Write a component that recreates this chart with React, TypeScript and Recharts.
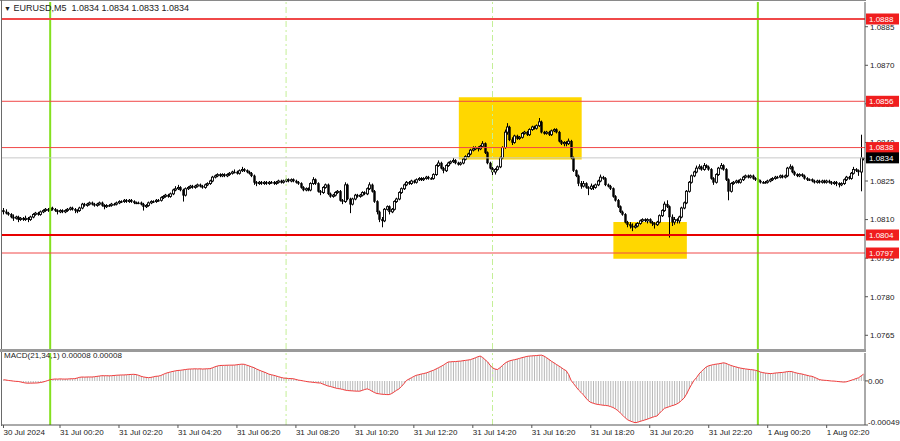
import React from 'react';
import { ComposedChart, Bar, Line, XAxis, YAxis, ReferenceLine, ReferenceArea } from 'recharts';

const FONT = '"Liberation Sans", Arial, sans-serif';
const BASE = 1.08;
const PIP = 0.0001;

// OHLC in pips above 1.0800, one entry per 5-minute bar
const opens = [
  13.5, 13, 12.5, 12, 11, 10.5, 11, 10, 10.5, 10,
  10.5, 10, 11, 12, 12.5, 12, 13, 13.5, 14, 13.5,
  14.5, 14, 13.5, 13, 13.5, 13, 13.5, 14, 14.5, 14,
  13.5, 13.5, 14.5, 16, 15.5, 16, 16.5, 16, 15.5, 16,
  16.5, 15.5, 15, 15.5, 15.5, 16, 16, 16.5, 17, 17,
  17.5, 17, 17.5, 17, 16.5, 16.5, 16.5, 16, 15, 15.5,
  16.5, 17, 17, 17.5, 17.5, 18.5, 19, 19.5, 19, 20,
  21.5, 22, 22.5, 21.5, 19.5, 22, 22.5, 23, 22.5, 23,
  23.5, 23, 22.5, 23.5, 24, 25, 26.5, 27, 27.5, 27,
  27.5, 27, 27.5, 28, 28.5, 28.5, 28, 29, 29.5, 29,
  28.5, 28, 27, 24.5, 24, 24.5, 24, 24.5, 24, 24.5,
  24.5, 24, 24.5, 25, 24.5, 25, 25.5, 25, 25.5, 25,
  24.5, 24, 22.5, 21.5, 22, 21.5, 24, 25.5, 24, 21,
  20.5, 22.5, 23.5, 20, 19, 19.5, 20.5, 21, 17.5, 17,
  23.5, 18, 16, 18, 19.5, 19, 19.5, 20.5, 20, 22,
  23.5, 21, 17, 13, 10, 9.5, 14, 15, 13, 14,
  17, 18, 20.5, 22, 23.5, 24.5, 24, 25, 24.5, 25.5,
  26, 25.5, 26, 26.5, 26, 26, 27.5, 31, 32, 30,
  29, 31, 32, 32.5, 33, 32, 31.5, 32, 33.5, 34.5,
  35.5, 37, 37.5, 38, 37.5, 38.5, 39.5, 36, 32, 30,
  28.5, 29.5, 30.5, 34, 38, 44, 46, 41, 40, 42.5,
  41.5, 42, 43.5, 44, 43, 45, 46, 45.5, 46.5, 48,
  44, 43.5, 44, 43, 44.5, 45, 44, 40.5, 39.5, 40,
  39.5, 40.5, 34, 29, 27, 24, 23, 24, 22.5, 22,
  23, 22.5, 23.5, 25, 26.5, 26, 23.5, 23, 22, 19,
  17.5, 15, 13, 12, 9, 8, 7.5, 7, 7.5, 8.5,
  9.5, 10, 9.5, 10, 9, 8.5, 8, 9, 11.5, 13.5,
  16, 15, 11, 9, 10, 9.5, 11, 14.5, 16.5, 21,
  24.5, 27, 28.5, 30, 30.5, 29.5, 31, 30.5, 29.5, 26,
  24.5, 27.5, 30, 31, 29.5, 25.5, 21, 24, 24.5, 25,
  24.5, 25.5, 26.5, 27, 26.5, 27, 26, 25.5, 25, 24.5,
  24.5, 24.5, 25, 25.5, 26, 26.5, 26.5, 27, 26.5, 27,
  30, 30.5, 28.5, 27.5, 27, 27.5, 27, 26, 25.5, 25.5,
  25, 24.5, 25, 24.5, 25, 24.5, 25, 24.5, 24, 24.5,
  24, 23.5, 24, 25.5, 26.5, 26, 28, 29.5, 29, 28.5,
  34,
];
const highs = [
  14.5, 14, 13, 12.5, 12, 11.5, 11.5, 11, 11, 11.5,
  11, 11.5, 12.5, 13, 13, 13.5, 14, 14.5, 14.5, 15,
  15, 14.5, 14, 14, 14, 14, 14.5, 15, 15, 14.5,
  14, 15, 16.5, 16.5, 16.5, 17, 17, 16.5, 16.5, 17,
  17, 16, 16, 16, 16.5, 16.5, 17, 17.5, 17.5, 18,
  18, 18, 18, 17.5, 17, 17, 17, 16.5, 16, 17,
  17.5, 17.5, 18, 18, 19, 19.5, 20, 20, 20.5, 22,
  23, 23.5, 23, 22, 22.5, 23, 23.5, 23.5, 23.5, 24,
  24, 23.5, 24, 24.5, 25.5, 27, 27.5, 28, 28, 28,
  28, 28, 28.5, 29, 29.5, 29, 29.5, 30.5, 30, 29.5,
  29, 28.5, 27.5, 25, 25, 25, 25, 25, 25, 25,
  25, 25, 25.5, 25.5, 25.5, 26, 26, 26, 26, 25.5,
  25, 24.5, 23, 22.5, 22.5, 24.5, 26.5, 26, 24.5, 21.5,
  23, 24, 24, 20.5, 20, 21, 21.5, 21.5, 18, 24.5,
  24, 18.5, 18.5, 20, 20, 20, 21, 21, 22.5, 24.5,
  24, 21.5, 17.5, 13.5, 11, 14.5, 15.5, 15.5, 14.5, 17.5,
  18.5, 21, 22.5, 24, 25, 25, 25.5, 25.5, 26, 26.5,
  26.5, 26.5, 27, 27, 26.5, 28, 31.5, 33, 32.5, 30.5,
  31.5, 32.5, 33, 34, 33.5, 32.5, 32.5, 34, 35, 36,
  37.5, 38.5, 38.5, 38.5, 39, 40.5, 40, 36.5, 32.5, 30.5,
  30, 31, 34.5, 38.5, 45, 47.5, 46.5, 42, 43, 43,
  42.5, 44, 44.5, 44.5, 45.5, 46.5, 46.5, 47, 49.5, 48.5,
  44.5, 44.5, 44.5, 45, 45.5, 45.5, 44.5, 41, 40.5, 40.5,
  41.5, 41, 34.5, 29.5, 27.5, 25, 25, 24.5, 23, 24,
  23.5, 24, 25.5, 27.5, 27, 26.5, 24, 23.5, 22.5, 19.5,
  18, 15.5, 13.5, 12.5, 9.5, 9, 8.5, 8.5, 9, 10,
  10.5, 10.5, 10.5, 10.5, 9.5, 9, 9.5, 12, 14, 17,
  17.5, 15.5, 12, 11, 10.5, 11.5, 15, 17, 21.5, 25,
  27.5, 29, 31, 31.5, 31, 32, 31.5, 31, 30, 26.5,
  28, 30.5, 32, 31.5, 30, 26, 24.5, 25, 25.5, 25.5,
  26, 27, 27.5, 27.5, 27.5, 27.5, 26.5, 26, 25.5, 25,
  25, 25.5, 26, 26.5, 27, 27, 27.5, 27.5, 27.5, 30.5,
  31.5, 31, 29, 28, 28, 28, 27.5, 26.5, 26, 26,
  25.5, 25.5, 25.5, 25.5, 25.5, 25.5, 25.5, 25, 25, 25,
  24.5, 24.5, 26, 27, 27, 28.5, 30.5, 30, 29.5, 43,
  34,
];
const lows = [
  12, 12, 11.5, 10.5, 9.5, 10, 9, 9.5, 9.5, 9.5,
  9, 9.5, 10.5, 11.5, 11.5, 11.5, 12.5, 13, 13, 13,
  13.5, 13, 12, 12.5, 12.5, 12.5, 13, 13.5, 13.5, 12.5,
  12.5, 13, 14, 15, 15, 15.5, 15.5, 15, 15, 15.5,
  15, 14, 14.5, 15, 15, 15.5, 15.5, 16, 16.5, 16.5,
  16.5, 16.5, 16.5, 16, 16, 16, 15.5, 13.5, 14.5, 15,
  16, 16.5, 16.5, 17, 17, 18, 18.5, 18.5, 18.5, 19.5,
  21, 21.5, 21, 17, 19, 21.5, 22, 22, 22, 22.5,
  22.5, 22, 22, 23, 23.5, 24.5, 26, 26.5, 26.5, 26.5,
  26.5, 26.5, 27, 27.5, 28, 27.5, 27.5, 28.5, 28.5, 28,
  27.5, 26.5, 23.5, 23, 23.5, 23.5, 23.5, 23.5, 23.5, 24,
  23.5, 23.5, 24, 24, 24, 24.5, 24.5, 24.5, 24.5, 24,
  23.5, 22, 21, 21, 21, 21, 23.5, 23.5, 20.5, 19.5,
  20, 22, 19.5, 18.5, 18.5, 19, 20, 17, 16, 16.5,
  17.5, 12.5, 15.5, 17.5, 18.5, 18.5, 19, 19.5, 19.5, 21.5,
  20.5, 16.5, 12, 9, 7, 9, 13.5, 12, 12.5, 13.5,
  16.5, 17.5, 20, 21.5, 23, 23.5, 23.5, 24, 24, 25,
  25, 25, 25.5, 25.5, 25.5, 25.5, 27, 30.5, 29.5, 28,
  28.5, 30.5, 31.5, 32, 31.5, 31, 31, 31.5, 33, 34,
  35, 36.5, 37, 36.5, 37, 38, 35.5, 31.5, 29.5, 26.5,
  27.5, 29, 30, 33.5, 37.5, 43, 40.5, 39, 39.5, 41,
  41, 41.5, 43, 42.5, 42.5, 44.5, 45, 45, 46, 43.5,
  43, 43, 42.5, 42.5, 44, 43.5, 40, 39, 38.5, 38.5,
  39, 33.5, 28.5, 26.5, 23, 22, 22.5, 22, 19.5, 21.5,
  21.5, 22, 23, 24.5, 25.5, 23, 22.5, 21.5, 18.5, 17,
  14.5, 12.5, 11.5, 8.5, 7, 6.5, 5.5, 6.5, 7, 8,
  9, 9, 8.5, 8.5, 7.5, 6.5, 7.5, 8.5, 11, 13,
  14.5, 3, 7.5, 8, 8.5, 8.5, 10.5, 14, 16, 20.5,
  24, 26.5, 28, 29.5, 29, 29, 30, 29, 25.5, 23.5,
  24, 27, 29.5, 29, 25, 17.5, 20.5, 23.5, 24, 24,
  24, 25, 26, 26, 26, 25.5, 25, 24.5, 24, 24,
  24, 24, 24.5, 25, 25.5, 26, 26, 26, 26, 26.5,
  29.5, 28, 27, 26.5, 26.5, 26.5, 25.5, 25, 25, 24.5,
  24, 24, 24, 24, 24, 24, 24, 23.5, 23.5, 23,
  22.5, 23, 23.5, 25, 25.5, 25.5, 27.5, 28.5, 27, 21,
  33,
];
const closes = [
  13, 12.5, 12, 11, 10.5, 11, 10, 10.5, 10, 10.5,
  10, 11, 12, 12.5, 12, 13, 13.5, 14, 13.5, 14.5,
  14, 13.5, 13, 13.5, 13, 13.5, 14, 14.5, 14, 13.5,
  13.5, 14.5, 16, 15.5, 16, 16.5, 16, 15.5, 16, 16.5,
  15.5, 15, 15.5, 15.5, 16, 16, 16.5, 17, 17, 17.5,
  17, 17.5, 17, 16.5, 16.5, 16.5, 16, 15, 15.5, 16.5,
  17, 17, 17.5, 17.5, 18.5, 19, 19.5, 19, 20, 21.5,
  22, 22.5, 21.5, 19.5, 22, 22.5, 23, 22.5, 23, 23.5,
  23, 22.5, 23.5, 24, 25, 26.5, 27, 27.5, 27, 27.5,
  27, 27.5, 28, 28.5, 28.5, 28, 29, 29.5, 29, 28.5,
  28, 27, 24.5, 24, 24.5, 24, 24.5, 24, 24.5, 24.5,
  24, 24.5, 25, 24.5, 25, 25.5, 25, 25.5, 25, 24.5,
  24, 22.5, 21.5, 22, 21.5, 24, 25.5, 24, 21, 20.5,
  22.5, 23.5, 20, 19, 19.5, 20.5, 21, 17.5, 17, 23.5,
  18, 16, 18, 19.5, 19, 19.5, 20.5, 20, 22, 23.5,
  21, 17, 13, 10, 9.5, 14, 15, 13, 14, 17,
  18, 20.5, 22, 23.5, 24.5, 24, 25, 24.5, 25.5, 26,
  25.5, 26, 26.5, 26, 26, 27.5, 31, 32, 30, 29,
  31, 32, 32.5, 33, 32, 31.5, 32, 33.5, 34.5, 35.5,
  37, 37.5, 38, 37.5, 38.5, 39.5, 36, 32, 30, 28.5,
  29.5, 30.5, 34, 38, 44, 46, 41, 40, 42.5, 41.5,
  42, 43.5, 44, 43, 45, 46, 45.5, 46.5, 48, 44,
  43.5, 44, 43, 44.5, 45, 44, 40.5, 39.5, 40, 39.5,
  40.5, 34, 29, 27, 24, 23, 24, 22.5, 22, 23,
  22.5, 23.5, 25, 26.5, 26, 23.5, 23, 22, 19, 17.5,
  15, 13, 12, 9, 8, 7.5, 7, 7.5, 8.5, 9.5,
  10, 9.5, 10, 9, 8.5, 8, 9, 11.5, 13.5, 16,
  15, 11, 9, 10, 9.5, 11, 14.5, 16.5, 21, 24.5,
  27, 28.5, 30, 30.5, 29.5, 31, 30.5, 29.5, 26, 24.5,
  27.5, 30, 31, 29.5, 25.5, 21, 24, 24.5, 25, 24.5,
  25.5, 26.5, 27, 26.5, 27, 26, 25.5, 25, 24.5, 24.5,
  24.5, 25, 25.5, 26, 26.5, 26.5, 27, 26.5, 27, 30,
  30.5, 28.5, 27.5, 27, 27.5, 27, 26, 25.5, 25.5, 25,
  24.5, 25, 24.5, 25, 24.5, 25, 24.5, 24, 24.5, 24,
  23.5, 24, 25.5, 26.5, 26, 28, 29.5, 29, 28.5, 34,
  34,
];

// MACD(21,34,1) value per bar, in units of 0.00001
const macdValues = [
  1.3, 1.0, 0.5, 0.2, -0.2, -0.5, -0.6, -1.2, -1.8, -2.4,
  -2.5, -2.5, -2.4, -2.4, -2.2, -1.8, -1.3, -0.5, 0.4, 1.3,
  1.8, 2.1, 2.0, 2.2, 2.1, 2.0, 2.1, 2.3, 2.4, 2.5,
  3.2, 4.0, 4.3, 4.2, 4.3, 4.4, 4.3, 4.6, 5.0, 5.4,
  5.8, 5.7, 5.8, 5.6, 5.8, 6.0, 6.3, 6.4, 6.6, 6.6,
  6.8, 7.0, 7.2, 7.3, 7.0, 6.2, 5.1, 4.4, 3.9, 3.6,
  3.9, 4.5, 5.1, 5.3, 6.0, 7.2, 8.4, 9.2, 10.0, 10.6,
  11.2, 11.6, 11.8, 12.2, 12.6, 13.0, 13.2, 13.3, 13.4, 13.3,
  13.4, 13.2, 13.3, 13.5, 13.6, 14.5, 15.6, 16.5, 17.1, 17.2,
  17.3, 17.4, 17.5, 17.5, 17.6, 17.9, 18.3, 18.6, 18.4, 17.5,
  16.6, 15.6, 14.6, 13.2, 12.0, 10.9, 9.9, 8.8, 7.5, 6.8,
  6.2, 5.4, 4.6, 3.8, 3.2, 2.9, 2.7, 2.5, 2.4, 1.6,
  0.9, 0.5, 0.0, -0.5, -1.0, -1.3, -1.6, -1.9, -2.2, -2.4,
  -3.5, -4.6, -5.6, -6.2, -7.0, -7.8, -8.5, -8.8, -9.5, -10.2,
  -10.7, -10.9, -11.1, -11.3, -11.4, -11.4, -10.5, -9.6, -8.8, -9.9,
  -11.5, -13.0, -14.0, -14.4, -14.8, -15.0, -15.2, -15.2, -14.0, -12.2,
  -10.4, -8.8, -6.0, -3.0, 0.5, 2.0, 3.5, 5.0, 6.2, 6.9,
  7.6, 8.2, 8.8, 9.8, 10.9, 11.8, 13.2, 14.6, 16.0, 17.5,
  19.4, 21.0, 21.2, 21.4, 21.5, 21.8, 22.0, 22.4, 22.8, 23.2,
  23.6, 24.6, 25.6, 26.8, 27.6, 26.0, 23.5, 21.2, 17.5, 14.5,
  13.2, 12.6, 14.5, 17.0, 19.5, 21.2, 22.3, 23.0, 23.6, 24.2,
  25.0, 25.8, 26.5, 27.2, 27.6, 27.8, 28.0, 28.2, 28.5, 28.6,
  27.5, 25.8, 23.8, 21.8, 20.1, 18.3, 16.6, 14.8, 12.8, 11.3,
  7.0, 0.5, -3.0, -6.5, -10.0, -12.7, -15.5, -19.0, -22.0, -23.9,
  -24.8, -25.7, -26.2, -26.6, -27.0, -27.3, -27.6, -28.5, -29.5, -31.0,
  -33.0, -35.5, -38.2, -41.0, -43.2, -44.5, -45.5, -46.4, -46.0, -45.0,
  -44.2, -43.4, -42.5, -41.5, -40.5, -39.6, -38.9, -35.8, -33.0, -30.5,
  -29.5, -28.6, -27.6, -26.8, -25.7, -24.0, -21.5, -19.0, -14.5, -9.0,
  -4.0, 0.5, 3.5, 7.5, 10.5, 13.0, 15.5, 16.8, 17.5, 18.2,
  18.6, 19.0, 19.5, 20.1, 19.5, 18.3, 17.2, 16.3, 15.6, 14.8,
  14.2, 13.7, 13.3, 12.9, 12.6, 12.3, 11.8, 11.0, 9.9, 9.2,
  8.7, 8.4, 8.1, 8.3, 8.7, 9.0, 9.2, 9.4, 9.8, 10.3,
  10.5, 10.2, 9.3, 8.6, 8.1, 7.6, 6.9, 6.2, 5.5, 5.1,
  4.0, 2.8, 1.5, 1.0, 0.7, 0.5, 0.2, -0.1, -0.2, -0.5,
  -0.8, -1.1, -1.3, -1.0, -0.2, 0.7, 1.6, 2.6, 3.5, 5.5,
  7.5,
];

const priceTicks = [1.0765, 1.078, 1.0795, 1.081, 1.0825, 1.084, 1.0855, 1.087, 1.0885];
const levelPrices = [1.0888, 1.0856, 1.0838, 1.0797];
const keyLevel = 1.0804;
const lastPrice = 1.0834;
const macdTicks = [0.00031, 0, -0.00049];
const macdTickLabels = ['0.00031', '0.00', '-0.00049'];
const timeTickBars = [0, 23, 47, 71, 95, 119, 143, 167, 191, 215, 239, 263, 287, 311, 335];
const timeTickLabels = [
  '30 Jul 2024', '31 Jul 00:20', '31 Jul 02:20', '31 Jul 04:20', '31 Jul 06:20', '31 Jul 08:20',
  '31 Jul 10:20', '31 Jul 12:20', '31 Jul 14:20', '31 Jul 16:20', '31 Jul 18:20', '31 Jul 20:20',
  '31 Jul 22:20', '1 Aug 00:20', '1 Aug 02:20',
];
const dayStartBars = [19, 307];
const sessionBars = [115, 199];
const zoneStartBars = [185.3, 248.2];
const zoneEndBars = [235.3, 278.1];
const zoneLowPrices = [1.08334, 1.07948];
const zoneHighPrices = [1.08576, 1.08091];

const X_DOMAIN: [number, number] = [-0.61, 350.6];
const PRICE_DOMAIN: [number, number] = [1.075967, 1.089461];

const rows = closes.map((c, i) => {
  const o = BASE + opens[i] * PIP;
  const h = BASE + highs[i] * PIP;
  const l = BASE + lows[i] * PIP;
  const cl = BASE + c * PIP;
  return { i, o, h, l, c: cl, range: [l, h], macd: macdValues[i] * 1e-5 };
});

const Candle = (props: any) => {
  const { x, y, width, height, payload } = props;
  if (x == null || y == null || !payload) return null;
  const top = Math.min(y, y + height);
  const hgt = Math.abs(height);
  const cx = Math.round(x + width / 2);
  const span = payload.h - payload.l;
  const yOf = (v: number) => (span > 0 ? top + ((payload.h - v) / span) * hgt : top);
  const bTop = yOf(Math.max(payload.o, payload.c));
  const bBot = yOf(Math.min(payload.o, payload.c));
  const bull = payload.c > payload.o;
  return (
    <g>
      <line x1={cx + 0.5} x2={cx + 0.5} y1={top} y2={top + Math.max(hgt, 1)} stroke="#000" strokeWidth={1} />
      <rect
        x={cx - 0.5}
        y={bTop}
        width={2}
        height={Math.max(bBot - bTop, 1)}
        fill={bull ? '#ffffff' : '#000000'}
        stroke="#000"
        strokeWidth={bull ? 0.9 : 0.4}
      />
    </g>
  );
};

const makeTag = (text: string, bg: string) => (props: any) => {
  const vb = props.viewBox || {};
  const x = (vb.x || 0) + (vb.width || 0) + 1;
  const y = vb.y || 0;
  return (
    <g>
      <rect x={x} y={y - 5.5} width={33} height={11} fill={bg} />
      <text x={x + 3} y={y} dy="0.35em" fill="#fff" fontSize={8} fontFamily={FONT}>
        {text}
      </text>
    </g>
  );
};

const MacdTick = (props: any) => {
  const { x, y, payload } = props;
  const idx = macdTicks.indexOf(payload.value);
  const label = idx >= 0 ? macdTickLabels[idx] : '';
  const off = payload.value > 0 ? 4 : payload.value < 0 ? -3 : 0;
  return (
    <text x={x} y={y + off} dy="0.35em" textAnchor="start" fontSize={8} fontFamily={FONT} fill="#222">
      {label}
    </text>
  );
};

const TimeTick = (props: any) => {
  const { x, y, payload } = props;
  const idx = timeTickBars.indexOf(payload.value);
  const label = idx >= 0 ? timeTickLabels[idx] : '';
  return (
    <text x={x} y={y} dy="0.71em" textAnchor="start" fontSize={8} fontFamily={FONT} fill="#222">
      {label}
    </text>
  );
};

export default function App() {
  return (
    <div style={{ position: 'absolute', left: 0, top: 0, width: 900, height: 441, background: '#fff', overflow: 'hidden' }}>
      <div style={{ position: 'absolute', left: 0, top: 0 }}>
        <ComposedChart width={900} height={350} data={rows} margin={{ top: 2, right: 0, bottom: 1, left: 2 }}>
          <XAxis type="number" dataKey="i" domain={X_DOMAIN} hide allowDataOverflow />
          <YAxis
            orientation="right"
            domain={PRICE_DOMAIN}
            ticks={priceTicks}
            allowDataOverflow
            width={35}
            tickFormatter={(v: number) => v.toFixed(4)}
            tick={{ fontSize: 8, fill: '#222', fontFamily: FONT }}
            tickSize={3}
            tickMargin={2}
            axisLine={{ stroke: '#555' }}
            tickLine={{ stroke: '#555' }}
          />
          {zoneStartBars.map((s, k) => (
            <ReferenceArea
              key={'z' + k}
              x1={s}
              x2={zoneEndBars[k]}
              y1={zoneLowPrices[k]}
              y2={zoneHighPrices[k]}
              fill="#ffd700"
              fillOpacity={1}
              stroke="none"
            />
          ))}
          {sessionBars.map((b) => (
            <ReferenceLine key={'s' + b} x={b} stroke="#c4ef96" strokeWidth={1} strokeDasharray="6 3 2 3" />
          ))}
          {dayStartBars.map((b) => (
            <ReferenceLine key={'d' + b} x={b} stroke="#84e01e" strokeWidth={2} />
          ))}
          <ReferenceLine y={lastPrice} stroke="#c8c8c8" strokeWidth={1} />
          <Bar dataKey="range" shape={<Candle />} barSize={2} isAnimationActive={false} />
          {levelPrices.map((p, k) => (
            <ReferenceLine key={'l' + p} y={p} stroke="#f04848" strokeWidth={k === 0 ? 2 : 1} />
          ))}
          <ReferenceLine y={keyLevel} stroke="#e80000" strokeWidth={2} />
        </ComposedChart>
      </div>

      {/* price tags drawn on top of the axis labels */}
      <div style={{ position: 'absolute', left: 0, top: 0 }}>
        <ComposedChart width={900} height={350} data={rows} margin={{ top: 2, right: 35, bottom: 1, left: 2 }}>
          <XAxis type="number" dataKey="i" domain={X_DOMAIN} hide allowDataOverflow />
          <YAxis domain={PRICE_DOMAIN} hide allowDataOverflow />
          {levelPrices.map((p) => (
            <ReferenceLine key={'t' + p} y={p} stroke="none" label={makeTag(p.toFixed(4), '#f01e1e')} />
          ))}
          <ReferenceLine y={keyLevel} stroke="none" label={makeTag(keyLevel.toFixed(4), '#f01e1e')} />
          <ReferenceLine y={lastPrice} stroke="none" label={makeTag(lastPrice.toFixed(4), '#000')} />
        </ComposedChart>
      </div>

      <div style={{ position: 'absolute', left: 0, top: 352 }}>
        <ComposedChart width={900} height={89} data={rows} margin={{ top: 1, right: 0, bottom: 0, left: 2 }}>
          <XAxis
            type="number"
            dataKey="i"
            domain={X_DOMAIN}
            allowDataOverflow
            ticks={timeTickBars}
            interval={0}
            height={16}
            tick={<TimeTick />}
            tickSize={3}
            tickMargin={1}
            axisLine={{ stroke: '#555' }}
            tickLine={{ stroke: '#555' }}
          />
          <YAxis
            orientation="right"
            domain={[-0.00049, 0.00031]}
            ticks={macdTicks}
            allowDataOverflow
            width={35}
            tick={<MacdTick />}
            tickSize={3}
            tickMargin={0}
            axisLine={{ stroke: '#555' }}
            tickLine={{ stroke: '#555' }}
          />
          {sessionBars.map((b) => (
            <ReferenceLine key={'ms' + b} x={b} stroke="#c4ef96" strokeWidth={1} strokeDasharray="6 3 2 3" />
          ))}
          {dayStartBars.map((b) => (
            <ReferenceLine key={'md' + b} x={b} stroke="#84e01e" strokeWidth={2} />
          ))}
          <Bar dataKey="macd" barSize={1} fill="#b8b8b8" isAnimationActive={false} />
          <Line dataKey="macd" type="linear" stroke="#f03c3c" strokeWidth={1} dot={false} isAnimationActive={false} />
        </ComposedChart>
      </div>

      {/* panel frame */}
      <div style={{ position: 'absolute', left: 0, top: 0, width: 866, height: 1, background: '#8a8a8a' }} />
      <div style={{ position: 'absolute', left: 1, top: 0, width: 1, height: 426, background: '#6a6a6a' }} />
      <div style={{ position: 'absolute', left: 0, top: 349, width: 866, height: 3, background: '#9a9a9a' }} />

      <div
        style={{
          position: 'absolute',
          left: 4,
          top: 3,
          fontFamily: FONT,
          fontSize: 9,
          lineHeight: '10px',
          color: '#222',
          whiteSpace: 'pre',
        }}
      >
        <span style={{ fontSize: 7 }}>{'\u25BC'}</span>
        {' EURUSD,M5  1.0834 1.0834 1.0833 1.0834'}
      </div>
      <div
        style={{
          position: 'absolute',
          left: 4,
          top: 351,
          fontFamily: FONT,
          fontSize: 8,
          lineHeight: '10px',
          color: '#222',
          whiteSpace: 'pre',
        }}
      >
        {'MACD(21,34,1) 0.00008 0.00008'}
      </div>
    </div>
  );
}
